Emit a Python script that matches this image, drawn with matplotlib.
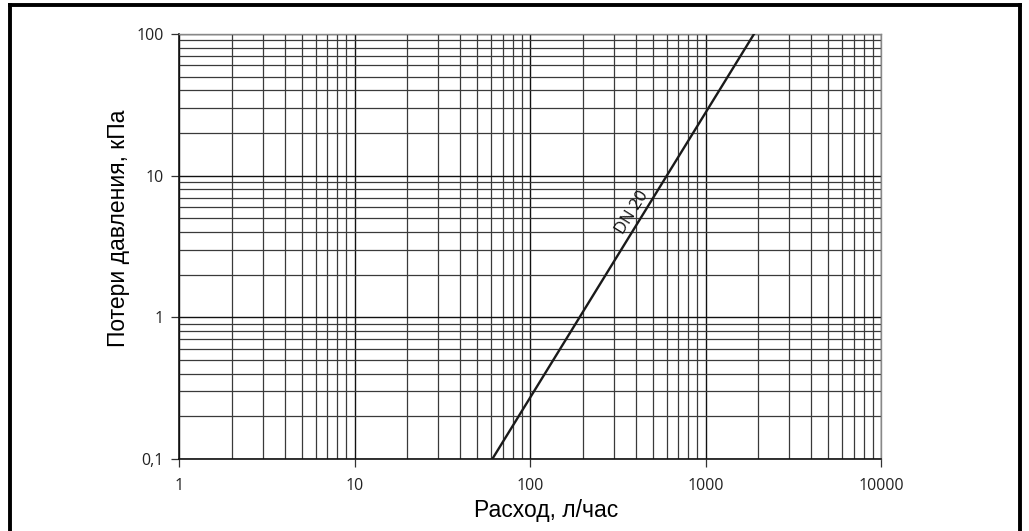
import matplotlib
matplotlib.use("Agg")
import matplotlib.pyplot as plt
from matplotlib.ticker import FixedLocator, FuncFormatter, LogLocator, NullFormatter
from matplotlib.lines import Line2D

# Data
flow = [61, 1890]          # л/час
dp = [0.1, 100]            # кПа
series_label = "DN 20"
x_ticks = [1, 10, 100, 1000, 10000]
y_ticks = [0.1, 1, 10, 100]
y_tick_labels = ["0,1", "1", "10", "100"]

W, H = 1029, 531
fig = plt.figure(figsize=(W/100, H/100), dpi=100)
ax = fig.add_axes([179/W, 1-459/H, (881-179)/W, (459-34)/H])
ax.set_xscale("log")
ax.set_yscale("log")
ax.set_xlim(1, 10000)
ax.set_ylim(0.1, 100)

ax.plot(flow, dp, color="#1a1a1a", lw=1.7, zorder=3)
ax.text(385, 5.5, series_label, rotation=58, ha="center", va="center",
        fontsize=12, family="Open Sans", color="#111111", zorder=4)

ax.xaxis.set_major_locator(FixedLocator(x_ticks))
ax.yaxis.set_major_locator(FixedLocator(y_ticks))
ax.xaxis.set_minor_locator(LogLocator(base=10, subs=range(2, 10), numticks=20))
ax.yaxis.set_minor_locator(LogLocator(base=10, subs=range(2, 10), numticks=20))
ax.xaxis.set_major_formatter(FuncFormatter(lambda v, p: "%d" % round(v)))
ax.yaxis.set_major_formatter(FuncFormatter(
    lambda v, p: y_tick_labels[min(range(len(y_ticks)), key=lambda i: abs(y_ticks[i] - v))]))
ax.xaxis.set_minor_formatter(NullFormatter())
ax.yaxis.set_minor_formatter(NullFormatter())

ax.grid(True, which="major", color="#111111", lw=1.0)
ax.grid(True, which="minor", color="#3a3a3a", lw=0.9)
ax.set_axisbelow(True)

ax.tick_params(which="major", direction="out", length=6, width=0.9, color="#333333",
               labelsize=11.5)
ax.tick_params(axis="x", which="major", pad=8)
ax.tick_params(axis="y", which="major", pad=5)
ax.tick_params(which="minor", length=0)
for lab in ax.get_xticklabels() + ax.get_yticklabels():
    lab.set_family("Open Sans")
    lab.set_color("#222222")

for s in ["left", "bottom"]:
    ax.spines[s].set_color("#111111")
    ax.spines[s].set_linewidth(1.2)
for s in ["top", "right"]:
    ax.spines[s].set_color("#888888")
    ax.spines[s].set_linewidth(1.0)

fig.text(546/W, 1-511/H, "Расход, л/час", family="Liberation Sans", fontsize=16.5,
         ha="center", va="center")
fig.text(118/W, 1-228/H, "Потери давления, кПа", family="Liberation Sans", fontsize=16.5,
         ha="center", va="center", rotation=90)

# figure frame
lw = 2.8
top = 1 - 5/H
fig.add_artist(Line2D([10/W, 10/W], [0, top], transform=fig.transFigure, color="black", lw=lw))
fig.add_artist(Line2D([10/W, 1020/W], [top, top], transform=fig.transFigure, color="black", lw=lw))
fig.add_artist(Line2D([1020/W, 1020/W], [0, top], transform=fig.transFigure, color="black", lw=lw))

fig.savefig("out.png", dpi=100)
